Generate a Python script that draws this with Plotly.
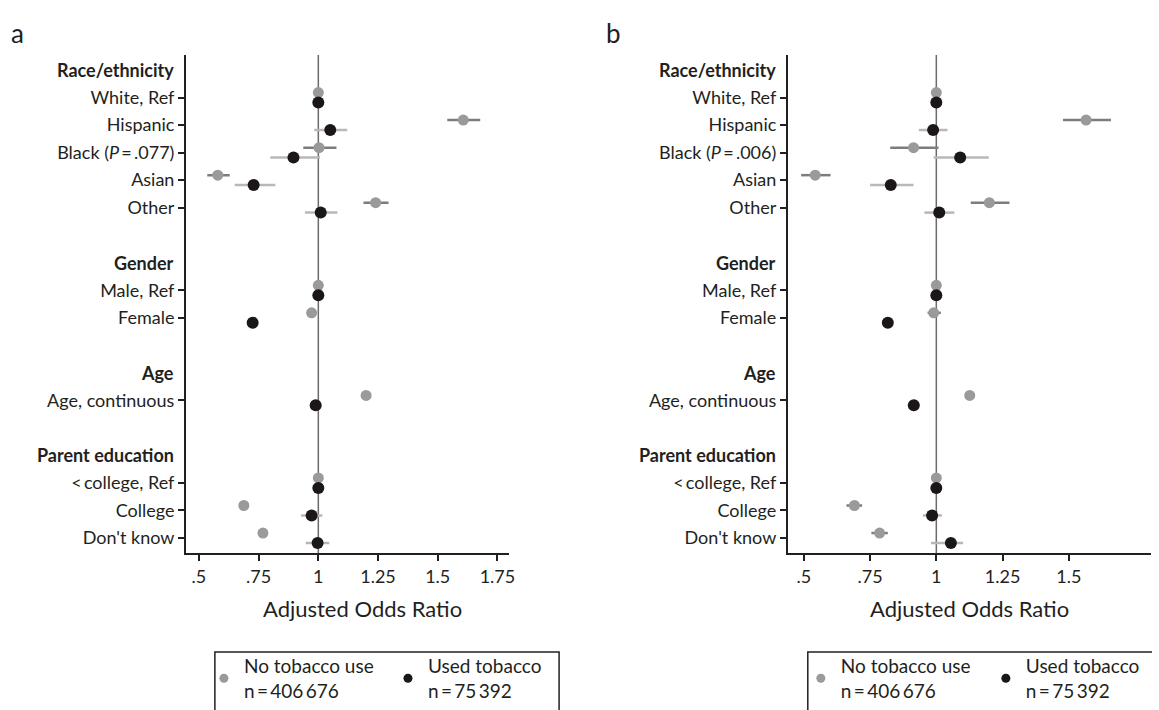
import plotly.graph_objects as go

# ---------------- data ----------------
headers = ["Race/ethnicity", "Gender", "Age", "Parent education"]
header_rows = [0, 7, 11, 14]
item_rows = [1, 2, 3, 4, 5, 8, 9, 12, 15, 16, 17]
labels_a = ["White, Ref", "Hispanic", "Black (<i>P</i>\u2009=\u2009.077)", "Asian", "Other",
            "Male, Ref", "Female", "Age, continuous",
            "&lt;\u2009college, Ref", "College", "Don't know"]
labels_b = ["White, Ref", "Hispanic", "Black (<i>P</i>\u2009=\u2009.006)", "Asian", "Other",
            "Male, Ref", "Female", "Age, continuous",
            "&lt;\u2009college, Ref", "College", "Don't know"]

# panel a - no tobacco use
a_no_or = [1.0, 1.607, 1.003, 0.579, 1.240, 1.0, 0.972, 1.200, 1.0, 0.688, 0.768]
a_no_lo = [1.0, 1.540, 0.937, 0.535, 1.189, 1.0, 0.962, 1.190, 1.0, 0.680, 0.758]
a_no_hi = [1.0, 1.678, 1.076, 0.629, 1.294, 1.0, 0.982, 1.210, 1.0, 0.695, 0.778]
# panel a - used tobacco
a_us_or = [1.0, 1.050, 0.896, 0.729, 1.010, 1.0, 0.725, 0.989, 1.0, 0.972, 0.997]
a_us_lo = [1.0, 0.983, 0.799, 0.650, 0.944, 1.0, 0.712, 0.982, 1.0, 0.928, 0.947]
a_us_hi = [1.0, 1.121, 1.007, 0.820, 1.080, 1.0, 0.738, 0.996, 1.0, 1.017, 1.046]
# panel b - no tobacco use
b_no_or = [1.0, 1.565, 0.914, 0.543, 1.200, 1.0, 0.990, 1.126, 1.0, 0.691, 0.786]
b_no_lo = [1.0, 1.478, 0.826, 0.490, 1.130, 1.0, 0.967, 1.120, 1.0, 0.661, 0.755]
b_no_hi = [1.0, 1.659, 1.008, 0.601, 1.276, 1.0, 1.017, 1.132, 1.0, 0.720, 0.817]
# panel b - used tobacco
b_us_or = [1.0, 0.988, 1.090, 0.828, 1.011, 1.0, 0.817, 0.915, 1.0, 0.984, 1.055]
b_us_lo = [1.0, 0.934, 0.990, 0.750, 0.955, 1.0, 0.800, 0.908, 1.0, 0.949, 0.980]
b_us_hi = [1.0, 1.042, 1.198, 0.914, 1.068, 1.0, 0.834, 0.922, 1.0, 1.021, 1.101]

ticks_a = [0.5, 0.75, 1, 1.25, 1.5, 1.75]
ticks_b = [0.5, 0.75, 1, 1.25, 1.5]
tick_text_a = [".5", ".75", "1", "1.25", "1.5", "1.75"]
tick_text_b = [".5", ".75", "1", "1.25", "1.5"]

series_names = ["No tobacco use<br>n\u2009=\u2009406\u2009676", "Used tobacco<br>n\u2009=\u200975\u2009392"]

# ---------------- style ----------------
INK = "#231f20"
GRAY = "#9a9a9a"
BLACK = "#1b1718"
GRAY_CI = "#7d7d7d"
BLACK_CI = "#b8b8b8"
FONT = "Lato"
TS = 18
LS = 19
W, H = 1159, 710
OFF = 0.18

fig = go.Figure()


def add_series(xa, ya, orv, lo, hi, color, ci_color, size, shift):
    fig.add_trace(go.Scatter(
        x=orv, y=[r + shift for r in item_rows], mode="markers",
        xaxis=xa, yaxis=ya, showlegend=False,
        marker=dict(color=color, size=size, line=dict(width=0)),
        error_x=dict(type="data", symmetric=False,
                     array=[h - o for h, o in zip(hi, orv)],
                     arrayminus=[o - l for o, l in zip(orv, lo)],
                     color=ci_color, thickness=2.5, width=0),
        hoverinfo="skip"))


add_series("x", "y", a_no_or, a_no_lo, a_no_hi, GRAY, GRAY_CI, 11, -OFF)
add_series("x", "y", a_us_or, a_us_lo, a_us_hi, BLACK, BLACK_CI, 12, OFF)
add_series("x2", "y2", b_no_or, b_no_lo, b_no_hi, GRAY, GRAY_CI, 11, -OFF)
add_series("x2", "y2", b_us_or, b_us_lo, b_us_hi, BLACK, BLACK_CI, 12, OFF)

# legend entries: one legend per entry so each can be placed on its own
legend_ids = [["legend", "legend2"], ["legend3", "legend4"]]
for ids in legend_ids:
    for lg, name, col in zip(ids, series_names, [GRAY, BLACK]):
        fig.add_trace(go.Scatter(x=[None], y=[None], mode="markers", name=name,
                                 marker=dict(color=col, size=9), legend=lg,
                                 xaxis="x", yaxis="y", showlegend=True))

dom_a = [187 / W, 512 / W]
dom_b = [792 / W, 1157 / W]
dom_y = [1 - 553 / H, 1 - 55 / H]
yrange = [17.545, -0.545]

axis_common = dict(showgrid=False, zeroline=False, showline=True, linewidth=2,
                   linecolor=INK, ticks="outside", ticklen=6, tickwidth=2,
                   tickcolor=INK, tickfont=dict(family=FONT, size=TS, color=INK))

leg_common = dict(orientation="h", xanchor="left", yanchor="bottom",
                  bgcolor="rgba(0,0,0,0)",
                  font=dict(family=FONT, size=LS, color=INK), borderwidth=0)
LEG_Y = 1 - 710 / H

fig.update_layout(
    width=W, height=H, margin=dict(l=0, r=0, t=0, b=0),
    paper_bgcolor="white", plot_bgcolor="white",
    font=dict(family=FONT, color=INK), dragmode=False,
    xaxis=dict(domain=dom_a, range=[0.446, 1.80], tickvals=ticks_a, ticktext=tick_text_a,
               anchor="y", fixedrange=True, **axis_common),
    yaxis=dict(domain=dom_y, range=yrange, tickvals=item_rows, ticktext=labels_a,
               anchor="x", fixedrange=True, **axis_common),
    xaxis2=dict(domain=dom_b, range=[0.44, 1.81], tickvals=ticks_b, ticktext=tick_text_b,
                anchor="y2", fixedrange=True, **axis_common),
    yaxis2=dict(domain=dom_y, range=yrange, tickvals=item_rows, ticktext=labels_b,
                anchor="x2", fixedrange=True, **axis_common),
    legend=dict(x=205 / W, y=LEG_Y, **leg_common),
    legend2=dict(x=390 / W, y=LEG_Y, **leg_common),
    legend3=dict(x=805 / W, y=LEG_Y, **leg_common),
    legend4=dict(x=991 / W, y=LEG_Y, **leg_common),
)

# reference lines at OR = 1
for xa, ya in [("x", "y"), ("x2", "y2")]:
    fig.add_shape(type="line", xref=xa, yref=f"{ya} domain", x0=1, x1=1, y0=0, y1=1,
                  line=dict(color="#6b6b6b", width=1.5), layer="below")


def px(x):
    return x / W


def py(y):
    return 1 - y / H


# legend boxes (bottom edge falls outside the picture)
fig.add_shape(type="path", xref="paper", yref="paper",
              path=f"M {px(216)},{py(710)} L {px(216)},{py(652)} L {px(562)},{py(652)} L {px(562)},{py(710)}",
              line=dict(color=INK, width=1.5))
fig.add_shape(type="path", xref="paper", yref="paper",
              path=f"M {px(812)},{py(710)} L {px(812)},{py(652)} L {px(1158)},{py(652)}",
              line=dict(color=INK, width=1.5))

# group headers
for xa, ya in [("x", "y"), ("x2", "y2")]:
    for h, r in zip(headers, header_rows):
        fig.add_annotation(text=f"<b>{h}</b>", xref=f"{xa} domain", yref=ya, x=0, y=r,
                           xanchor="right", yanchor="middle", xshift=-10, showarrow=False,
                           font=dict(family=FONT, size=TS, color=INK))

# axis titles
for cx in [364, 975]:
    fig.add_annotation(text="Adjusted Odds Ratio", xref="paper", yref="paper",
                       x=cx / W, y=1 - 608 / H, xanchor="center", yanchor="middle",
                       showarrow=False, font=dict(family=FONT, size=22, color=INK))

# panel letters
for lx, lt in [(9, "a"), (607, "b")]:
    fig.add_annotation(text=lt, xref="paper", yref="paper", x=lx / W, y=1 - 33 / H,
                       xanchor="left", yanchor="middle", showarrow=False,
                       font=dict(family=FONT, size=26, color=INK))

fig.write_html(
    "out.html",
    config={"staticPlot": True, "displayModeBar": False},
    post_script=("document.documentElement.style.overflow='hidden';"
                 "document.body.style.overflow='hidden';"
                 "document.body.style.margin='0';"
                 "document.querySelectorAll('.plotly-graph-div').forEach("
                 "function(d){d.style.overflow='hidden';});"),
)
